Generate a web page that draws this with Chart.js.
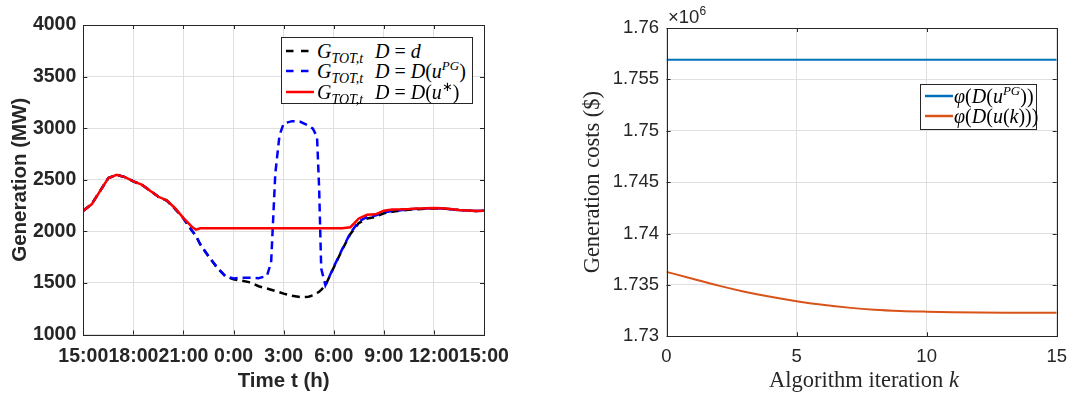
<!DOCTYPE html>
<html>
<head>
<meta charset="utf-8">
<title>Generation profile and generation costs</title>
<script src="https://cdn.jsdelivr.net/npm/chart.js@4.4.1/dist/chart.umd.min.js"></script>
<style>
  html, body { margin: 0; padding: 0; background: #fff; }
  body { position: relative; width: 1077px; height: 398px; overflow: hidden; }
  .panel { position: absolute; top: 0; height: 398px; }
  #panelGen { left: 0; width: 520px; }
  #panelCost { left: 540px; width: 537px; }
  .legend { position: absolute; box-sizing: border-box; background: #fff; border: 1px solid #262626;
            font-family: "Liberation Serif", "Times New Roman", serif; font-size: 20px; color: #000; }
  .legend .row { position: absolute; left: 0; right: 0; height: 20px; line-height: 20px; white-space: nowrap; }
  .legend svg { position: absolute; left: 4px; top: 0; }
  .legend .txt { position: absolute; top: 0; }
  .legend sub { font-size: 14px; vertical-align: -5px; line-height: 0; }
  .legend sup { font-size: 13px; vertical-align: 8px; line-height: 0; }
  #legGen { left: 281px; top: 37px; width: 192px; height: 67px; }
  #legCost { left: 920px; top: 84px; width: 117px; height: 46px; }
  #mult { position: absolute; left: 668px; top: 7px; font-family: "Liberation Sans", Arial, sans-serif;
          font-size: 18.5px; line-height: 20px; color: #262626; }
  #mult sup { font-size: 12px; vertical-align: 8px; line-height: 0; }
  #xTitleCost { position: absolute; left: 666px; width: 396px; top: 367px; text-align: center;
                font-family: "Liberation Serif", "Times New Roman", serif; font-size: 22.5px;
                line-height: 26px; color: #262626; }
</style>
</head>
<body>
<div class="panel" id="panelGen"><canvas id="genChart"></canvas></div>
<div class="panel" id="panelCost"><canvas id="costChart"></canvas></div>

<div class="legend" id="legGen">
  <div class="row" style="top:3px">
    <svg width="28" height="20"><line x1="0" y1="10" x2="28" y2="10" stroke="#000" stroke-width="2.5" stroke-dasharray="7.5,7.5"/></svg>
    <span class="txt" style="left:35px"><i>G</i><sub><i>TOT,t</i></sub></span>
    <span class="txt" style="left:93px"><i>D</i> = <i>d</i></span>
  </div>
  <div class="row" style="top:23px">
    <svg width="28" height="20"><line x1="0" y1="10" x2="28" y2="10" stroke="#0000ff" stroke-width="2.5" stroke-dasharray="7.5,7.5"/></svg>
    <span class="txt" style="left:35px"><i>G</i><sub><i>TOT,t</i></sub></span>
    <span class="txt" style="left:93px"><i>D</i> = <i>D</i>(<i>u</i><sup><i>PG</i></sup>)</span>
  </div>
  <div class="row" style="top:44px">
    <svg width="28" height="20"><line x1="0" y1="10" x2="28" y2="10" stroke="#ff0000" stroke-width="2.5"/></svg>
    <span class="txt" style="left:35px"><i>G</i><sub><i>TOT,t</i></sub></span>
    <span class="txt" style="left:93px"><i>D</i> = <i>D</i>(<i>u</i><sup>∗</sup>)</span>
  </div>
</div>

<div class="legend" id="legCost">
  <div class="row" style="top:1px">
    <svg width="28" height="20"><line x1="0" y1="10" x2="28" y2="10" stroke="#0072BD" stroke-width="2.5"/></svg>
    <span class="txt" style="left:33px"><i>φ</i>(<i>D</i>(<i>u</i><sup><i>PG</i></sup>))</span>
  </div>
  <div class="row" style="top:21px">
    <svg width="28" height="20"><line x1="0" y1="10" x2="28" y2="10" stroke="#D95319" stroke-width="2.5"/></svg>
    <span class="txt" style="left:33px"><i>φ</i>(<i>D</i>(<i>u</i>(<i>k</i>)))</span>
  </div>
</div>

<div id="mult">×10<sup>6</sup></div>
<div id="xTitleCost">Algorithm iteration <i>k</i></div>

<script>
// ---- Generation profile, hours counted from 15:00 over a 24 h horizon ----
const hours = [0, 0.5, 1, 1.5, 2, 2.5, 3, 3.5, 4, 4.5, 5, 5.5, 6, 6.5, 6.75, 7, 7.5, 8, 8.5, 9,
               9.5, 10, 10.5, 11, 11.25, 11.5, 11.75, 12, 12.5, 13, 13.5, 13.75, 14, 14.125, 14.25, 14.5,
               15, 15.5, 16, 16.5, 17, 17.5, 18, 18.5, 19, 19.5, 20, 20.5, 21, 21.5, 22, 22.5, 23, 23.5, 24];
const timeTickLabels = ['15:00', '18:00', '21:00', '0:00', '3:00', '6:00', '9:00', '12:00', '15:00'];

// G_TOT,t with D = d (MW)
const genDemandD = [2200, 2262, 2390, 2516, 2548, 2526, 2484, 2452, 2394, 2335,
                    2298, 2218, 2125, 2008, 1955, 1875, 1758, 1652, 1566, 1535,
                    1522, 1505, 1468, 1446, 1434, 1422, 1410, 1396, 1376, 1363,
                    1366, 1380, 1402, 1415, 1432, 1476, 1650, 1820, 1975, 2080,
                    2124, 2140, 2175, 2190, 2200, 2208, 2215, 2220, 2224, 2221,
                    2214, 2206, 2202, 2197, 2199];
// G_TOT,t with D = D(u^PG) (MW)
const genDemandPG = [2200, 2262, 2390, 2516, 2548, 2526, 2484, 2452, 2394, 2335,
                     2298, 2218, 2125, 2008, 1955, 1875, 1758, 1652, 1566, 1543,
                     1551, 1551, 1546, 1568, 1700, 2560, 2930, 3045, 3068, 3062,
                     3025, 2995, 2915, 2420, 1640, 1478, 1655, 1825, 1985, 2095,
                     2140, 2152, 2185, 2198, 2205, 2212, 2220, 2222, 2226, 2222,
                     2215, 2206, 2202, 2197, 2199];
// G_TOT,t with D = D(u*) (MW)
const genDemandOpt = [2200, 2262, 2390, 2516, 2548, 2526, 2484, 2452, 2394, 2335,
                      2300, 2224, 2128, 2045, 2016, 2030, 2030, 2030, 2030, 2030,
                      2030, 2030, 2030, 2030, 2030, 2030, 2030, 2030, 2030, 2030,
                      2030, 2030, 2030, 2030, 2030, 2030, 2030, 2030, 2040, 2125,
                      2160, 2165, 2200, 2212, 2213, 2216, 2222, 2223, 2226, 2223,
                      2216, 2207, 2203, 2197, 2199];

// ---- Generation costs per algorithm iteration, in units of 10^6 $ ----
const iterations = [0, 1, 2, 3, 4, 5, 6, 7, 8, 9, 10, 11, 12, 13, 14, 15];
const costPG = [1.7569, 1.7569, 1.7569, 1.7569, 1.7569, 1.7569, 1.7569, 1.7569,
                1.7569, 1.7569, 1.7569, 1.7569, 1.7569, 1.7569, 1.7569, 1.7569];
const costIter = [1.73627, 1.73560, 1.73493, 1.73434, 1.73384, 1.73341, 1.73306, 1.73279,
                  1.73259, 1.73247, 1.73240, 1.73235, 1.73231, 1.73229, 1.73228, 1.73228];

const pts = (xs, ys) => xs.map((x, i) => ({ x: x, y: ys[i] }));

const AXIS_COLOR = '#262626';
const GRID_COLOR = '#dfdfdf';

// Box around the plot area with inward tick marks on all four sides
const axesBox = {
  id: 'axesBox',
  afterDatasetsDraw(chart, args, opts) {
    const { ctx, chartArea: a, scales } = chart;
    const tl = opts.tickLen || 4;
    ctx.save();
    ctx.strokeStyle = opts.color || AXIS_COLOR;
    ctx.lineWidth = 1;
    ctx.beginPath();
    scales.x.ticks.forEach(t => {
      const px = Math.round(scales.x.getPixelForValue(t.value)) + 0.5;
      ctx.moveTo(px, a.bottom); ctx.lineTo(px, a.bottom - tl);
      ctx.moveTo(px, a.top); ctx.lineTo(px, a.top + tl);
    });
    scales.y.ticks.forEach(t => {
      const py = Math.round(scales.y.getPixelForValue(t.value)) + 0.5;
      ctx.moveTo(a.left, py); ctx.lineTo(a.left + tl, py);
      ctx.moveTo(a.right, py); ctx.lineTo(a.right - tl, py);
    });
    ctx.stroke();
    ctx.strokeRect(Math.round(a.left) + 0.5, Math.round(a.top) + 0.5,
                   Math.round(a.right) - Math.round(a.left), Math.round(a.bottom) - Math.round(a.top));
    ctx.restore();
  }
};

const boldSans = size => ({ family: '"Liberation Sans", Arial, sans-serif', size: size, weight: 'bold' });
const plainSans = size => ({ family: '"Liberation Sans", Arial, sans-serif', size: size, weight: 'normal' });

new Chart(document.getElementById('genChart'), {
  type: 'line',
  data: {
    datasets: [
      { label: 'D = D(u*)', data: pts(hours, genDemandOpt), borderColor: '#ff0000', borderWidth: 2.5 },
      { label: 'D = D(u^PG)', data: pts(hours, genDemandPG), borderColor: '#0000ff', borderWidth: 2.5, borderDash: [8, 5] },
      { label: 'D = d', data: pts(hours, genDemandD), borderColor: '#000000', borderWidth: 2.5, borderDash: [8, 5] }
    ]
  },
  options: {
    responsive: true,
    maintainAspectRatio: false,
    animation: false,
    layout: { padding: { left: 0, right: 36, top: 25, bottom: 0 } },
    elements: { point: { radius: 0 }, line: { tension: 0, fill: false } },
    plugins: { legend: { display: false }, tooltip: { enabled: false }, axesBox: { color: AXIS_COLOR, tickLen: 4 } },
    scales: {
      x: {
        type: 'linear', min: 0, max: 24,
        afterFit: s => { s.height = 63.5; },
        ticks: { stepSize: 3, autoSkip: false, maxRotation: 0, minRotation: 0, padding: 10,
                 color: AXIS_COLOR, font: boldSans(19.5),
                 callback: v => timeTickLabels[Math.round(v / 3)] },
        grid: { color: GRID_COLOR, drawTicks: false },
        border: { display: false },
        title: { display: true, text: 'Time t (h)', color: AXIS_COLOR, font: boldSans(20.5), padding: { top: 0, bottom: 4 } }
      },
      y: {
        min: 1000, max: 4000,
        afterFit: s => { s.width = 83.3; },
        ticks: { stepSize: 500, padding: 7, color: AXIS_COLOR, font: boldSans(19.5),
                 callback: v => String(v) },
        grid: { color: GRID_COLOR, drawTicks: false },
        border: { display: false },
        title: { display: true, text: 'Generation (MW)', color: AXIS_COLOR, font: boldSans(20.5), padding: { top: 8, bottom: 0 } }
      }
    }
  },
  plugins: [axesBox]
});

new Chart(document.getElementById('costChart'), {
  type: 'line',
  data: {
    datasets: [
      { label: 'phi(D(u^PG))', data: pts(iterations, costPG), borderColor: '#0072BD', borderWidth: 2 },
      { label: 'phi(D(u(k)))', data: pts(iterations, costIter), borderColor: '#D95319', borderWidth: 2,
        cubicInterpolationMode: 'monotone' }
    ]
  },
  options: {
    responsive: true,
    maintainAspectRatio: false,
    animation: false,
    layout: { padding: { left: 0, right: 14.7, top: 28, bottom: 0 } },
    elements: { point: { radius: 0 }, line: { fill: false } },
    plugins: { legend: { display: false }, tooltip: { enabled: false }, axesBox: { color: AXIS_COLOR, tickLen: 4 } },
    scales: {
      x: {
        type: 'linear', min: 0, max: 15,
        afterFit: s => { s.height = 61.7; },
        ticks: { stepSize: 5, autoSkip: false, maxRotation: 0, padding: 10, color: AXIS_COLOR, font: plainSans(18.5) },
        grid: { color: GRID_COLOR, drawTicks: false },
        border: { display: false }
      },
      y: {
        min: 1.73, max: 1.76,
        afterFit: s => { s.width = 126.5; },
        ticks: { stepSize: 0.005, padding: 7.5, color: AXIS_COLOR, font: plainSans(18.5),
                 callback: v => String(+(+v).toFixed(3)) },
        grid: { color: GRID_COLOR, drawTicks: false },
        border: { display: false },
        title: { display: true, text: 'Generation costs ($)', color: AXIS_COLOR,
                 font: { family: '"Liberation Serif", "Times New Roman", serif', size: 22.5, weight: 'normal' },
                 padding: { top: 40, bottom: 0 } }
      }
    }
  },
  plugins: [axesBox]
});
</script>
</body>
</html>
